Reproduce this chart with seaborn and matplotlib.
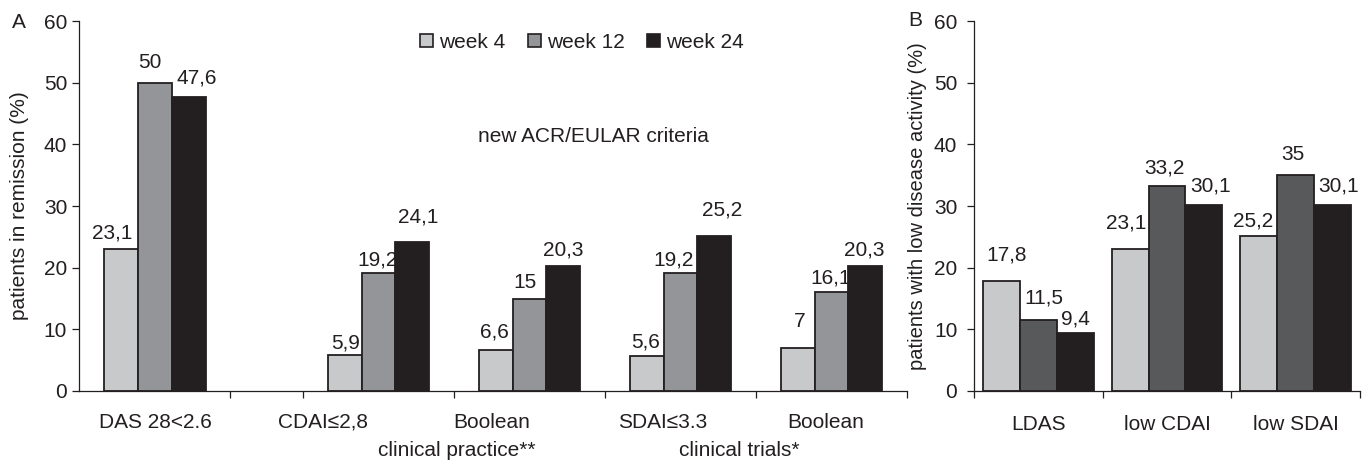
import matplotlib
matplotlib.use("Agg")
import matplotlib.pyplot as plt
from matplotlib.patches import Patch
import seaborn as sns
import pandas as pd

# ---------------- data ----------------
weeks = ["week 4", "week 12", "week 24"]

a_categories = ["DAS 28<2.6", "CDAI≤2,8", "Boolean (clinical practice)",
                "SDAI≤3.3", "Boolean (clinical trials)"]
a_tick_labels = ["DAS 28<2.6", "CDAI≤2,8", "Boolean", "SDAI≤3.3", "Boolean"]
a_group_labels = ["clinical practice**", "clinical trials*"]
a_week4 = [23.1, 5.9, 6.6, 5.6, 7.0]
a_week12 = [50.0, 19.2, 15.0, 19.2, 16.1]
a_week24 = [47.6, 24.1, 20.3, 25.2, 20.3]

b_categories = ["LDAS", "low CDAI", "low SDAI"]
b_week4 = [17.8, 23.1, 25.2]
b_week12 = [11.5, 33.2, 35.0]
b_week24 = [9.4, 30.1, 30.1]

# ---------------- style / layout ----------------
sns.set_style("ticks")
plt.rcParams["font.family"] = ["Liberation Sans", "DejaVu Sans"]
FS = 15
plt.rcParams["font.size"] = FS
INK = "#231f20"
plt.rcParams["text.color"] = INK
plt.rcParams["axes.labelcolor"] = INK
plt.rcParams["xtick.color"] = INK
plt.rcParams["ytick.color"] = INK

pal_a = dict(zip(weeks, ["#c8c9cb", "#939598", "#231f20"]))
pal_b = dict(zip(weeks, ["#c8c9cb", "#58595b", "#231f20"]))

# slot centres for panel A (first chart block is separated from the rest)
a_slots = [0.0, 1.48, 2.48, 3.48, 4.48]
a_bounds = [0.497, 0.98, 1.98, 2.98, 3.98, 4.98]
# label text x-positions (data units) and rows
a_label_x = [0.0, 1.11, 2.23, 3.36, 4.44]
a_group_x = [2.0, 3.87]

# value-label offsets (pixels) per category, per week
a_offsets = [[(-9, 16), (-5, 20), (8, 19)],
             [(1, 12), (-1, 13), (6, 25)],
             [(-1, 18), (-4, 16), (0, 16)],
             [(-1, 14), (-7, 13), (8, 26)],
             [(2, 26), (-1, 14), (-1, 16)]]
b_offsets = [[(5, 26), (6, 22), (0, 14)],
             [(-4, 26), (-3, 18), (7, 19)],
             [(-6, 15), (-3, 21), (6, 19)]]


def long_frame(cats, w4, w12, w24):
    rows = []
    for series, vals in zip(weeks, [w4, w12, w24]):
        for c, v in zip(cats, vals):
            rows.append({"category": c, "week": series, "value": v})
    return pd.DataFrame(rows)


df_a = long_frame(a_categories, a_week4, a_week12, a_week24)
df_a["pos"] = df_a["category"].map(dict(zip(a_categories, a_slots)))
df_b = long_frame(b_categories, b_week4, b_week12, b_week24)

W, H = 1372, 462
fig = plt.figure(figsize=(W / 100, H / 100), dpi=100)
ax_a = fig.add_axes([79 / W, (H - 391) / H, (907 - 79) / W, 370 / H])
ax_b = fig.add_axes([974 / W, (H - 391) / H, (1360 - 974) / W, 370 / H])

bar_kw = dict(edgecolor=INK, linewidth=1.3, saturation=1, errorbar=None, legend=False)

sns.barplot(data=df_a, x="pos", y="value", hue="week", hue_order=weeks,
            palette=pal_a, native_scale=True, width=0.67, ax=ax_a, **bar_kw)
sns.barplot(data=df_b, x="category", y="value", hue="week", hue_order=weeks,
            order=b_categories, palette=pal_b, width=0.86, ax=ax_b, **bar_kw)


def fmt(v):
    return f"{v:g}".replace(".", ",")


def label_bars(ax, slots, offsets):
    for wi, cont in enumerate(ax.containers):
        for bar in cont:
            cx = bar.get_x() + bar.get_width() / 2
            h = bar.get_height()
            ci = min(range(len(slots)), key=lambda k: abs(slots[k] - cx))
            dx, dy = offsets[ci][wi]
            ax.annotate(fmt(h), xy=(cx, h), xytext=(dx, dy),
                        textcoords="offset pixels", ha="center", va="center",
                        fontsize=FS, color=INK)


label_bars(ax_a, a_slots, a_offsets)
label_bars(ax_b, [0, 1, 2], b_offsets)

for ax in (ax_a, ax_b):
    ax.set_ylim(0, 60)
    ax.set_yticks(range(0, 61, 10))
    sns.despine(ax=ax)
    for s in ("left", "bottom"):
        ax.spines[s].set_color(INK)
        ax.spines[s].set_linewidth(0.9)
    ax.tick_params(axis="both", direction="out", length=5, width=0.9, labelsize=FS)
    ax.set_xlabel("")

# panel A x-axis
ax_a.set_xlim(-0.503, 4.98)
ax_a.set_xticks(a_bounds)
ax_a.set_xticklabels([])
ax_a.tick_params(axis="y", pad=3.5)
for x, t in zip(a_label_x, a_tick_labels):
    ax_a.annotate(t, xy=(x, 0), xycoords=("data", "axes fraction"),
                  xytext=(0, -31), textcoords="offset pixels",
                  ha="center", va="center", fontsize=FS)
for x, t in zip(a_group_x, a_group_labels):
    ax_a.annotate(t, xy=(x, 0), xycoords=("data", "axes fraction"),
                  xytext=(0, -59), textcoords="offset pixels",
                  ha="center", va="center", fontsize=FS)
ax_a.set_ylabel("patients in remission (%)", fontsize=FS)
ax_a.yaxis.set_label_coords(-0.0604, 0.5)

# panel B x-axis
ax_b.set_xlim(-0.5, 2.5)
ax_b.set_xticks([-0.5, 0.5, 1.5, 2.5])
ax_b.set_xticklabels([])
ax_b.set_xticks([0, 1, 2], minor=True)
ax_b.set_xticklabels(b_categories, minor=True)
ax_b.tick_params(axis="x", which="minor", length=0, pad=17, labelsize=FS)
ax_b.tick_params(axis="y", pad=7)
ax_b.set_ylabel("patients with low disease activity (%)", fontsize=FS - 0.5)
ax_b.yaxis.set_label_coords(-0.122, 0.5)

# legend
handles = [Patch(facecolor=pal_a[w], edgecolor=INK, linewidth=1.2, label=w) for w in weeks]
ax_a.legend(handles=handles, loc="center", ncol=3, frameon=False,
            bbox_to_anchor=(582 / W, 1 - 42 / H), bbox_transform=fig.transFigure,
            handlelength=0.6, handleheight=0.6, handletextpad=0.3,
            columnspacing=1.1, fontsize=FS)

fig.text(593 / W, 1 - 137 / H, "new ACR/EULAR criteria", ha="center", va="center", fontsize=FS)
fig.text(19 / W, 1 - 22 / H, "A", ha="center", va="center", fontsize=FS)
fig.text(915 / W, 1 - 21 / H, "B", ha="center", va="center", fontsize=FS)

fig.savefig("out.png", dpi=100)
